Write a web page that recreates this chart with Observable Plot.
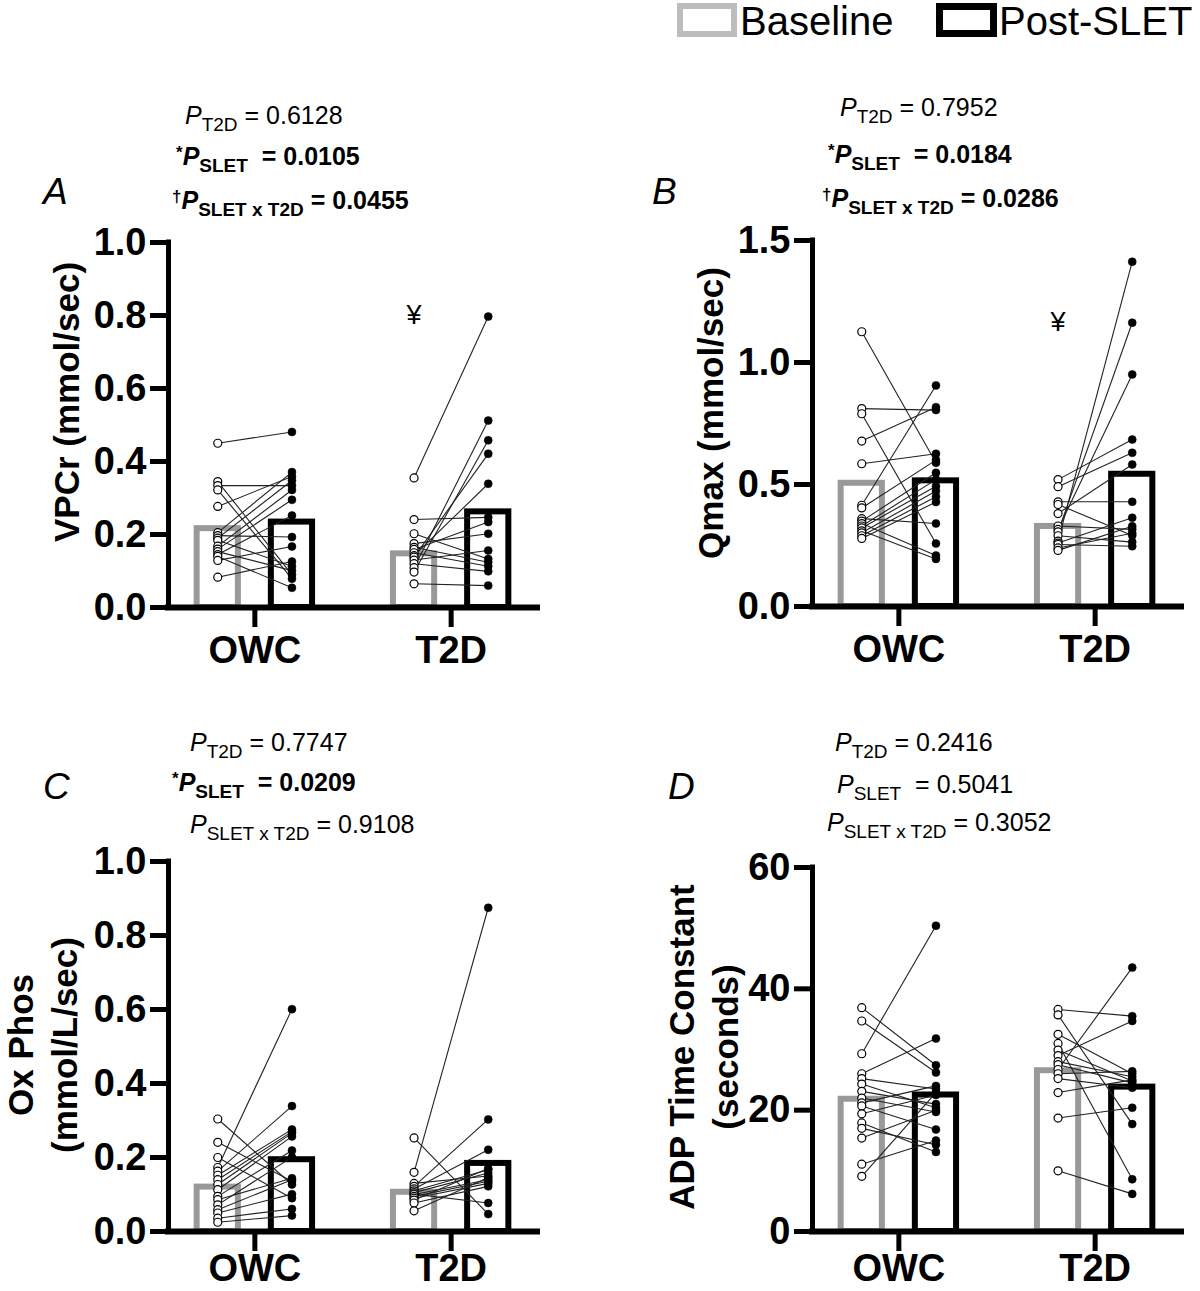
<!DOCTYPE html>
<html><head><meta charset="utf-8">
<script src="https://cdn.jsdelivr.net/npm/d3@7"></script>
<script src="https://cdn.jsdelivr.net/npm/@observablehq/plot@0.6"></script>
<style>
body{margin:0;background:#fff;}
#fig{position:relative;width:1200px;height:1291px;font-family:"Liberation Sans",Arial,Helvetica,sans-serif;color:#000;overflow:hidden;background:#fff}
.abs{position:absolute;white-space:nowrap}
.ann{font-size:25px;line-height:25px}
.ann.b{font-weight:bold}
.ann i{font-style:italic}
.ann sub{font-size:19px;vertical-align:-7px;line-height:0}
.ann sup{font-size:17px;vertical-align:7px;line-height:0}
.letter{font-size:37px;font-style:italic;line-height:37px}
.ylab{font-size:35px;font-weight:bold;text-align:center;transform:translate(-50%,-50%) rotate(-90deg);line-height:44px}
.leg{font-size:40px;line-height:40px}
.box{position:absolute;box-sizing:border-box;background:#fff}
</style></head><body><div id="fig"></div>
<script>
// ---------- categories ----------
const groups = ["OWC", "T2D"];
const conditions = ["Baseline", "Post-SLET"];

// ---------- Panel A: VPCr (mmol/sec) ----------
const vpcrOwcBase = [0.450,0.345,0.334,0.322,0.277,0.205,0.197,0.190,0.184,0.168,0.160,0.153,0.145,0.140,0.129,0.083];
const vpcrOwcPost = [0.481,0.090,0.334,0.079,0.359,0.371,0.193,0.348,0.113,0.322,0.295,0.101,0.252,0.054,0.167,0.126];
const vpcrT2dBase = [0.355,0.241,0.202,0.175,0.165,0.159,0.150,0.142,0.138,0.130,0.120,0.109,0.097,0.065];
const vpcrT2dPost = [0.797,0.247,0.133,0.202,0.124,0.234,0.113,0.339,0.421,0.156,0.099,0.512,0.458,0.060];
const vpcrMeanBase = [0.216, 0.147];
const vpcrMeanPost = [0.234, 0.262];
const vpcrTicks = [0, 0.2, 0.4, 0.6, 0.8, 1.0];

// ---------- Panel B: Qmax (mmol/sec) ----------
const qmaxOwcBase = [1.126,0.811,0.790,0.678,0.585,0.415,0.404,0.360,0.350,0.340,0.330,0.322,0.310,0.302,0.290,0.279];
const qmaxOwcPost = [0.589,0.805,0.258,0.817,0.626,0.906,0.600,0.340,0.548,0.209,0.520,0.493,0.195,0.473,0.450,0.428];
const qmaxT2dBase = [0.520,0.491,0.429,0.418,0.381,0.330,0.316,0.306,0.290,0.268,0.260,0.254,0.240,0.230];
const qmaxT2dPost = [0.684,0.630,0.429,0.291,0.582,0.316,0.951,1.163,0.264,1.413,0.364,0.247,0.300,0.329];
const qmaxMeanBase = [0.505, 0.328];
const qmaxMeanPost = [0.515, 0.542];
const qmaxTicks = [0, 0.5, 1.0, 1.5];

// ---------- Panel C: Ox Phos (mmol/L/sec) ----------
const oxOwcBase = [0.304,0.241,0.200,0.173,0.163,0.152,0.140,0.127,0.113,0.095,0.086,0.072,0.059,0.050,0.036,0.025];
const oxOwcPost = [0.127,0.136,0.090,0.601,0.339,0.276,0.270,0.266,0.257,0.219,0.144,0.201,0.140,0.101,0.061,0.043];
const oxT2dBase = [0.253,0.160,0.130,0.122,0.115,0.110,0.105,0.101,0.100,0.095,0.090,0.085,0.077,0.056];
const oxT2dPost = [0.047,0.875,0.150,0.303,0.221,0.167,0.158,0.077,0.140,0.136,0.130,0.170,0.122,0.146];
const oxMeanBase = [0.120, 0.106];
const oxMeanPost = [0.194, 0.184];
const oxTicks = [0, 0.2, 0.4, 0.6, 0.8, 1.0];

// ---------- Panel D: ADP Time Constant (seconds) ----------
const adpOwcBase = [36.9,34.7,29.3,26.0,25.2,24.3,23.1,22.0,21.2,20.7,19.4,17.9,17.0,15.4,11.1,9.1];
const adpOwcPost = [27.4,26.2,50.4,31.8,23.5,20.4,21.0,19.7,24.0,16.8,22.5,13.1,14.3,20.0,15.0,22.9];
const adpT2dBase = [36.6,35.7,32.5,31.0,29.9,29.0,28.0,27.5,26.7,26.0,25.2,22.9,18.7,10.0];
const adpT2dPost = [35.5,17.7,26.0,8.6,24.8,34.7,25.5,24.5,43.5,26.4,23.7,25.0,20.4,6.2];
const adpMeanBase = [21.8, 26.5];
const adpMeanPost = [22.5, 23.8];
const adpTicks = [0, 20, 40, 60];

// ---------- layout constants ----------
const OFF = 0.189;   // half distance between Baseline and Post bars (group units)
const HW = 0.105;    // half bar width (group units)
const XDOM = [-0.44, 1.44];
const GRAY = "#999999";
const FONT = '"Liberation Sans", Arial, Helvetica, sans-serif';

function pairRows(baseArrs, postArrs) {
  const out = [];
  groups.forEach((g, gi) => baseArrs[gi].forEach((b, i) => out.push({group: g, gi, base: b, post: postArrs[gi][i]})));
  return out;
}
function barRows(meanBase, meanPost) {
  return groups.map((g, gi) => ({group: g, gi, base: meanBase[gi], post: meanPost[gi]}));
}

function panel(opt) {
  const rows = pairRows(opt.base, opt.post);
  const bars = barRows(opt.meanBase, opt.meanPost);
  const ymax = opt.ticks[opt.ticks.length - 1];
  const marks = [
    Plot.rect(bars, {x1: d => d.gi - OFF - HW, x2: d => d.gi - OFF + HW, y1: 0, y2: "base", fill: "white", stroke: GRAY, strokeWidth: 6}),
    Plot.rect(bars, {x1: d => d.gi + OFF - HW, x2: d => d.gi + OFF + HW, y1: 0, y2: "post", fill: "white", stroke: "black", strokeWidth: 6}),
    Plot.link(rows, {x1: d => d.gi - OFF, x2: d => d.gi + OFF, y1: "base", y2: "post", stroke: "#222", strokeWidth: 1.1}),
    Plot.dot(rows, {x: d => d.gi - OFF, y: "base", r: 4, fill: "white", stroke: "black", strokeWidth: 1.2}),
    Plot.dot(rows, {x: d => d.gi + OFF, y: "post", r: 4, fill: "black", stroke: "black", strokeWidth: 0.5}),
    Plot.ruleY([0], {strokeWidth: 6, strokeLinecap: "square"}),
    Plot.ruleX([XDOM[0]], {y1: 0, y2: ymax, strokeWidth: 5, strokeLinecap: "square"}),
    Plot.axisY({ticks: opt.ticks, tickFormat: opt.fmt, tickSize: 18, tickPadding: 4, strokeWidth: 5, fontSize: 38, fontWeight: "bold", label: null}),
    Plot.axisX({ticks: [0, 1], tickFormat: i => groups[i], tickSize: 20, tickPadding: opt.xpad, strokeWidth: 5, fontSize: 38, fontWeight: "bold", label: null})
  ];
  if (opt.yen != null) {
    marks.push(Plot.text([opt.yen], {x: 1 - OFF, y: d => d, text: () => "¥", fontSize: 27, fontWeight: "normal"}));
  }
  const svg = Plot.plot({
    width: opt.width, height: opt.height,
    marginLeft: opt.ml, marginRight: opt.mr, marginTop: opt.mt, marginBottom: opt.mb,
    x: {domain: XDOM},
    y: {domain: [0, ymax]},
    style: {fontFamily: FONT, fontSize: "38px", fontWeight: "bold", background: "transparent", overflow: "visible", color: "black"},
    marks
  });
  svg.style.position = "absolute";
  svg.style.left = opt.left + "px";
  svg.style.top = opt.top + "px";
  return svg;
}

const fig = document.getElementById("fig");
fig.appendChild(panel({base: [vpcrOwcBase, vpcrT2dBase], post: [vpcrOwcPost, vpcrT2dPost], meanBase: vpcrMeanBase, meanPost: vpcrMeanPost,
  ticks: vpcrTicks, fmt: d3.format(".1f"), yen: 0.80, xpad: 9,
  left: 0, top: 200, width: 560, height: 480, ml: 168, mr: 23, mt: 42, mb: 73}));
fig.appendChild(panel({base: [qmaxOwcBase, qmaxT2dBase], post: [qmaxOwcPost, qmaxT2dPost], meanBase: qmaxMeanBase, meanPost: qmaxMeanPost,
  ticks: qmaxTicks, fmt: d3.format(".1f"), yen: 1.165, xpad: 9,
  left: 600, top: 200, width: 600, height: 480, ml: 212, mr: 19, mt: 40, mb: 74}));
fig.appendChild(panel({base: [oxOwcBase, oxT2dBase], post: [oxOwcPost, oxT2dPost], meanBase: oxMeanBase, meanPost: oxMeanPost,
  ticks: oxTicks, fmt: d3.format(".1f"), yen: null, xpad: 3,
  left: 0, top: 820, width: 560, height: 460, ml: 168, mr: 23, mt: 41, mb: 49}));
fig.appendChild(panel({base: [adpOwcBase, adpT2dBase], post: [adpOwcPost, adpT2dPost], meanBase: adpMeanBase, meanPost: adpMeanPost,
  ticks: adpTicks, fmt: d3.format("d"), yen: null, xpad: 3,
  left: 600, top: 820, width: 600, height: 460, ml: 212, mr: 19, mt: 47, mb: 49}));

// ---------- text: legend, panel letters, y labels, statistics ----------
function addHTML(html, cls, left, top, extra) {
  const d = document.createElement("div");
  d.className = "abs " + cls;
  d.style.left = left + "px";
  d.style.top = top + "px";
  if (extra) Object.assign(d.style, extra);
  d.innerHTML = html;
  fig.appendChild(d);
  return d;
}
// legend
const lg1 = document.createElement("div"); lg1.className = "box";
Object.assign(lg1.style, {left: "677px", top: "3px", width: "60px", height: "34px", border: "6px solid #bdbdbd"}); fig.appendChild(lg1);
addHTML(conditions[0], "leg", 740, 1);
const lg2 = document.createElement("div"); lg2.className = "box";
Object.assign(lg2.style, {left: "936px", top: "3px", width: "61px", height: "34px", border: "7px solid #000"}); fig.appendChild(lg2);
addHTML(conditions[1], "leg", 999, 1);

// panel letters
addHTML("A", "letter", 43, 173);
addHTML("B", "letter", 652, 173);
addHTML("C", "letter", 43, 768);
addHTML("D", "letter", 668, 768);

// y-axis titles (centered)
addHTML("VPCr (mmol/sec)", "ylab", 67, 402);
addHTML("Qmax (mmol/sec)", "ylab", 711, 413);
addHTML("Ox Phos<br>(mmol/L/sec)", "ylab", 43, 1045);
addHTML("ADP Time Constant<br>(seconds)", "ylab", 704, 1047);

// statistics
const S = (sub) => `<i>P</i><sub>${sub}</sub>`;
addHTML(`${S("T2D")} = 0.6128`, "ann", 185, 103);
addHTML(`<sup>*</sup>${S("SLET")} &nbsp;= 0.0105`, "ann b", 176, 144);
addHTML(`<sup>†</sup>${S("SLET x T2D")} = 0.0455`, "ann b", 172, 188);

addHTML(`${S("T2D")} = 0.7952`, "ann", 840, 95);
addHTML(`<sup>*</sup>${S("SLET")} &nbsp;= 0.0184`, "ann b", 828, 142);
addHTML(`<sup>†</sup>${S("SLET x T2D")} = 0.0286`, "ann b", 822, 186);

addHTML(`${S("T2D")} = 0.7747`, "ann", 190, 730);
addHTML(`<sup>*</sup>${S("SLET")} &nbsp;= 0.0209`, "ann b", 172, 770);
addHTML(`${S("SLET x T2D")} = 0.9108`, "ann", 190, 812);

addHTML(`${S("T2D")} = 0.2416`, "ann", 835, 730);
addHTML(`${S("SLET")} &nbsp;= 0.5041`, "ann", 837, 772);
addHTML(`${S("SLET x T2D")} = 0.3052`, "ann", 827, 810);
</script></body></html>
